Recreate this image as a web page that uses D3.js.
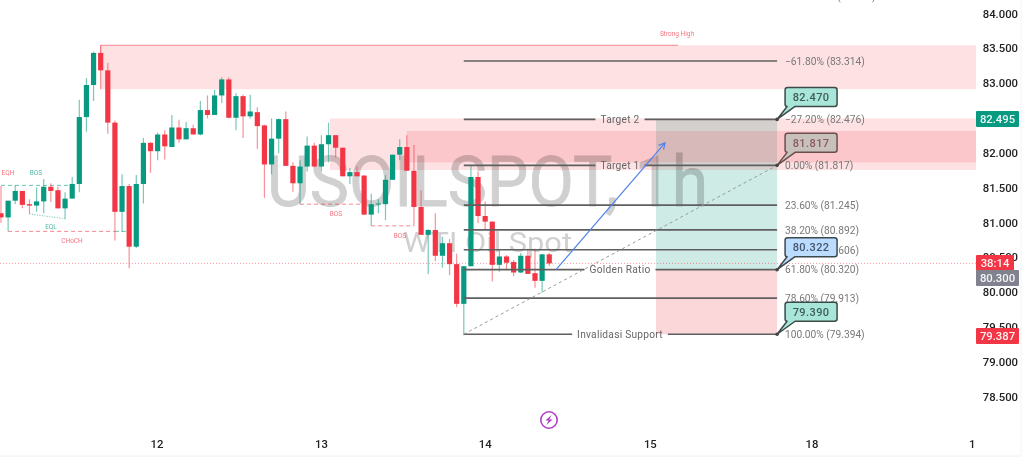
<!DOCTYPE html>
<html><head><meta charset="utf-8">
<script src="https://cdn.jsdelivr.net/npm/d3@7/dist/d3.min.js"></script>
<style>
html,body{margin:0;padding:0;background:#fff;overflow:hidden}
svg{display:block;font-family:Roboto,"Liberation Sans",sans-serif;filter:blur(.35px)}
</style></head><body>
<div id="chart"></div>
<script>
// [open, high, low, close]
const candles = [
[81.13,81.52,80.99,81.07],[81.07,81.31,80.87,81.31],[81.31,81.53,81.26,81.45],[81.45,81.45,81.20,81.25],
[81.26,81.33,81.12,81.24],[81.24,81.50,81.15,81.30],[81.30,81.62,81.13,81.51],[81.51,81.56,81.29,81.45],
[81.46,81.51,81.20,81.20],[81.20,81.43,81.05,81.34],[81.34,81.65,81.34,81.55],[81.55,82.76,81.43,82.51],
[82.51,83.07,82.30,82.97],[82.97,83.45,82.74,83.43],[83.43,83.54,82.91,83.18],[83.18,83.29,82.27,82.43],
[82.43,82.46,80.74,81.15],[81.15,81.69,80.86,81.52],[81.52,81.55,80.34,80.65],[80.65,81.68,80.63,81.55],
[81.55,82.21,81.27,82.14],[82.14,82.15,81.71,82.02],[82.02,82.29,81.89,82.26],[82.26,82.32,81.90,82.09],
[82.08,82.54,82.08,82.36],[82.36,82.47,82.14,82.19],[82.19,82.44,82.19,82.35],[82.35,82.40,82.26,82.26],
[82.26,82.74,82.25,82.61],[82.61,82.82,82.49,82.54],[82.54,82.90,82.54,82.82],[82.82,83.08,82.71,83.05],
[83.05,83.08,82.49,82.50],[82.50,82.85,82.32,82.81],[82.81,82.83,82.21,82.52],[82.52,82.83,82.49,82.59],
[82.58,82.65,82.05,82.38],[82.39,82.40,81.35,81.83],[81.83,82.49,81.69,82.20],[82.20,82.49,81.99,82.48],
[82.48,82.59,81.81,81.81],[81.81,81.86,81.44,81.56],[81.56,81.89,81.26,81.80],[81.80,82.23,81.73,82.10],
[82.10,82.14,81.79,81.80],[81.80,82.25,81.73,82.12],[82.12,82.43,81.86,82.25],[82.25,82.25,81.93,82.07],
[82.07,82.07,81.66,81.66],[81.66,81.78,81.55,81.72],[81.72,81.80,81.66,81.66],[81.67,81.68,81.11,81.11],
[81.11,81.41,80.95,81.26],[81.26,81.33,81.13,81.27],[81.26,81.68,81.03,81.61],[81.61,81.97,81.61,81.97],
[81.97,82.19,81.89,82.08],[82.08,82.25,81.74,81.74],[81.74,82.11,80.95,81.22],[81.22,81.46,80.82,80.82],
[80.82,80.90,80.26,80.89],[80.89,81.13,80.44,80.52],[80.52,80.79,80.35,80.70],[80.70,80.76,80.24,80.40],
[80.40,80.55,79.78,79.83],[79.83,80.37,79.38,80.37],[80.37,81.81,80.37,81.65],[81.65,81.73,80.99,81.09],
[81.09,81.30,80.89,81.01],[81.01,81.01,80.15,80.39],[80.39,80.60,80.29,80.51],[80.51,80.53,80.32,80.42],
[80.43,80.46,80.23,80.28],[80.28,80.56,80.27,80.52],[80.52,80.62,80.26,80.26],[80.27,80.62,80.06,80.16],
[80.16,80.55,79.99,80.54],[80.54,80.56,80.37,80.41]
];
const priceTicks = [84,83.5,83,82,81.5,81,80.5,80,79.5,79,78.5];
const dayLabels = ["12","13","14","15","18","1"];
const dayIndex = [21.9,45,68,91.2,113.9,136.4];
const fibPrices = [84.24,83.314,82.476,81.817,81.245,80.892,80.606,80.32,79.913,79.394];
const fibText = ["−100.00% (84.240)","−61.80% (83.314)","−27.20% (82.476)","0.00% (81.817)","23.60% (81.245)","38.20% (80.892)","50.00% (80.606)","61.80% (80.320)","78.60% (79.913)","100.00% (79.394)"];
const fibNames = ["","","Target 2","Target 1","","","","Golden Ratio","","Invalidasi Support"];
const zonePrices = [[83.54,82.91,14],[82.49,81.75,46.2],[82.31,81.86,57]];
const callPrices = [82.476,81.817,80.32,79.394];
const callLabels = ["82.470","81.817","80.322","79.390"];
const lastPrice = 80.41;

const W=1024,H=473;
const x=d3.scaleLinear().domain([0,100]).range([1,713]);
const y=d3.scaleLinear().domain([80,84]).range([292,13.2]);
const svg=d3.select("#chart").append("svg").attr("width",W).attr("height",H);
const plotR=976;
const red="#f23645",green="#089981";

// position box
const boxL=92,boxR=109;
svg.append("rect").attr("x",x(boxL)).attr("width",x(boxR)-x(boxL)).attr("y",y(82.476)).attr("height",y(80.32)-y(82.476)).attr("fill",green).attr("fill-opacity",.2);
svg.append("rect").attr("x",x(boxL)).attr("width",x(boxR)-x(boxL)).attr("y",y(80.32)).attr("height",y(79.394)-y(80.32)).attr("fill",red).attr("fill-opacity",.2);

// zones
svg.selectAll(".zone").data(zonePrices).join("rect")
 .attr("x",d=>x(d[2])).attr("width",d=>plotR-x(d[2]))
 .attr("y",d=>y(d[0])).attr("height",d=>y(d[1])-y(d[0]))
 .attr("fill",red).attr("fill-opacity",.15);
svg.append("line").attr("x1",x(14)).attr("x2",678).attr("y1",y(83.54)).attr("y2",y(83.54)).attr("stroke",red).attr("stroke-opacity",.55);
svg.append("line").attr("x1",x(14)).attr("x2",x(14)).attr("y1",y(83.54)).attr("y2",y(83.2)).attr("stroke",red).attr("stroke-opacity",.35);

// watermark
svg.append("text").attr("x",267).attr("y",205.5).attr("font-size",70).attr("textLength",441).attr("lengthAdjust","spacingAndGlyphs").attr("fill","#d0d0d0").attr("stroke","#d0d0d0").attr("stroke-width",.8).style("mix-blend-mode","multiply").text("USOILSPOT, 1h");
svg.append("text").attr("x",403).attr("y",251.5).attr("font-size",28).attr("textLength",169).attr("lengthAdjust","spacingAndGlyphs").attr("fill","#d0d0d0").style("mix-blend-mode","multiply").text("WTI Oil Spot");

// last price line
svg.append("line").attr("x1",0).attr("x2",plotR).attr("y1",y(lastPrice)).attr("y2",y(lastPrice))
 .attr("stroke",red).attr("stroke-opacity",.5).attr("stroke-dasharray","1 2");

// structure marks
const dash=(a,b,c,d,col,da)=>svg.append("line").attr("x1",x(a)).attr("x2",x(c)).attr("y1",y(b)).attr("y2",y(d)).attr("stroke",col).attr("stroke-opacity",.6).attr("stroke-dasharray",da||"4 3");
dash(0,81.53,10.4,81.53,green);
dash(1,80.87,16,80.87,red);dash(16,80.87,18,80.87,green);
dash(4,81.12,9,81.05,green,"1 1.5");
dash(42,81.26,51,81.26,red);
dash(52,80.95,58,80.95,red);
const smallLabels=[["EQH",8,175,red],["BOS",36,175,green],["EQL",51,229,green],["CHoCH",72,243,red],["BOS",336,216,red],["BOS",400,238,red],["Strong High",677,36,red]];
svg.selectAll(".sm").data(smallLabels).join("text").attr("x",d=>d[1]).attr("y",d=>d[2]).attr("text-anchor","middle")
 .attr("font-size",6.5).attr("fill",d=>d[3]).attr("fill-opacity",.7).text(d=>d[0]);

// candles
const g=svg.append("g");
g.selectAll(".w").data(candles).join("line").attr("x1",(d,i)=>x(i)).attr("x2",(d,i)=>x(i))
 .attr("y1",d=>y(d[1])).attr("y2",d=>y(d[2])).attr("stroke",d=>d[3]>=d[0]?green:red).attr("stroke-opacity",.55).attr("stroke-width",1.2);
g.selectAll(".b").data(candles).join("rect").attr("x",(d,i)=>x(i)-2.6).attr("width",5.2)
 .attr("y",d=>y(Math.max(d[0],d[3]))).attr("height",d=>Math.max(1,Math.abs(y(d[0])-y(d[3]))))
 .attr("fill",d=>d[3]>=d[0]?green:red);

// fib lines
const fibL=65,fibRt=109,lblC=620;
fibPrices.forEach((p,i)=>{
 const txt=()=>svg.append("text").attr("x",i==0?790:785).attr("y",y(p)+3.8).attr("font-size",10.2).attr("fill","#787878").text(fibText[i]);
 if(i==0){txt();return;}
 const name=fibNames[i];let half=0;
 if(name){const t=svg.append("text").attr("x",lblC).attr("y",y(p)+3.8).attr("text-anchor","middle").attr("font-size",10.2).attr("fill","#666").attr("letter-spacing",.25).text(name);
  half=t.node().getComputedTextLength()/2+5;}
 const seg=(a,b)=>svg.append("line").attr("x1",a).attr("x2",b).attr("y1",y(p)).attr("y2",y(p)).attr("stroke","#5f5f5f").attr("stroke-width",1.7);
 if(name){seg(x(fibL),lblC-half);seg(lblC+half,x(fibRt));} else seg(x(fibL),x(fibRt));
 txt();
});
// diagonal
svg.append("line").attr("x1",x(fibL)).attr("y1",y(79.394)).attr("x2",x(fibRt)).attr("y2",y(81.817)).attr("stroke","#999").attr("stroke-dasharray","3 3");
// arrow
const ax1=x(77.95),ay1=y(80.32),ax2=x(93.26),ay2=y(82.14);
svg.append("line").attr("x1",ax1).attr("y1",ay1).attr("x2",ax2).attr("y2",ay2).attr("stroke","#4f82ee").attr("stroke-width",1.2);
const ang=Math.atan2(ay2-ay1,ax2-ax1);
svg.append("path").attr("d",d3.line()([[ax2-7*Math.cos(ang-.5),ay2-7*Math.sin(ang-.5)],[ax2,ay2],[ax2-7*Math.cos(ang+.5),ay2-7*Math.sin(ang+.5)]])).attr("fill","none").attr("stroke","#4f82ee").attr("stroke-width",1.2);

// callouts
const callFill=["#a8e6d9","#c8c0bb","#bbdbff","#a8e6d9"];
const callText=["#3f5c58","#8b5a5e","#44566b","#3f5c58"];
const callStroke=["#3c4a48","#6b4f50","#3c4a50","#3c4a48"];
callPrices.forEach((p,i)=>{
 const dx=x(fibRt),dy=y(p),L=dx+8,R=dx+60,T=dy-32,B=dy-13,r=2.5;
 svg.append("path").attr("d",`M${L+r},${T}H${R-r}Q${R},${T} ${R},${T+r}V${B-r}Q${R},${B} ${R-r},${B}H${L+10}L${dx},${dy}L${L+2},${B}Q${L},${B} ${L},${B-r}V${T+r}Q${L},${T} ${L+r},${T}Z`)
 .attr("fill",callFill[i]).attr("stroke",callStroke[i]).attr("stroke-width",1.5).attr("stroke-linejoin","round");
 svg.append("text").attr("x",(L+R)/2).attr("y",T+13.5).attr("text-anchor","middle").attr("font-size",11).attr("letter-spacing",.4).attr("font-weight",500).attr("fill",callText[i]).text(callLabels[i]);
 svg.append("circle").attr("cx",dx).attr("cy",dy).attr("r",1.8).attr("fill","#444");
});

// price axis
svg.selectAll(".pt").data(priceTicks).join("text").attr("x",1018).attr("y",d=>y(d)+4.3).attr("text-anchor","end")
 .attr("font-size",11.3).attr("font-weight",500).attr("fill","#222").text(d=>d3.format(".3f")(d));
const tags=[["38:14",255,1014,red],["80.300",270,1019,"#80838f"],["82.495",111,1019,green],["79.387",328,1019,red]];
tags.forEach(t=>{
 svg.append("rect").attr("x",976).attr("y",t[1]).attr("width",t[2]-976).attr("height",16).attr("rx",1).attr("fill",t[3]);
 svg.append("text").attr("x",t[2]==1014?995:997.5).attr("y",t[1]+12).attr("text-anchor","middle").attr("font-size",11.3).attr("font-weight",500).attr("fill","#fff").attr("fill-opacity",.92).text(t[0]);
});

// time axis
svg.selectAll(".dt").data(dayLabels).join("text").attr("x",(d,i)=>x(dayIndex[i])).attr("y",448).attr("text-anchor","middle")
 .attr("font-size",11.3).attr("font-weight",500).attr("fill","#222").text(d=>d);
svg.append("line").attr("x1",0).attr("x2",1021).attr("y1",456).attr("y2",456).attr("stroke","#f0f0f0");
svg.append("line").attr("x1",1021).attr("x2",1021).attr("y1",0).attr("y2",456).attr("stroke","#f4f4f4");

// lightning icon
const ic=svg.append("g").attr("transform","translate(549,420)");
ic.append("circle").attr("r",8.2).attr("fill","#fff").attr("stroke","#b13fc9").attr("stroke-width",1.6);
ic.append("path").attr("d","M2.6,-5 L-3.6,0.6 L-0.3,0.6 L-2.6,5 L3.6,-0.6 L0.3,-0.6 Z").attr("fill","#a83cc0");
</script>
</body></html>
